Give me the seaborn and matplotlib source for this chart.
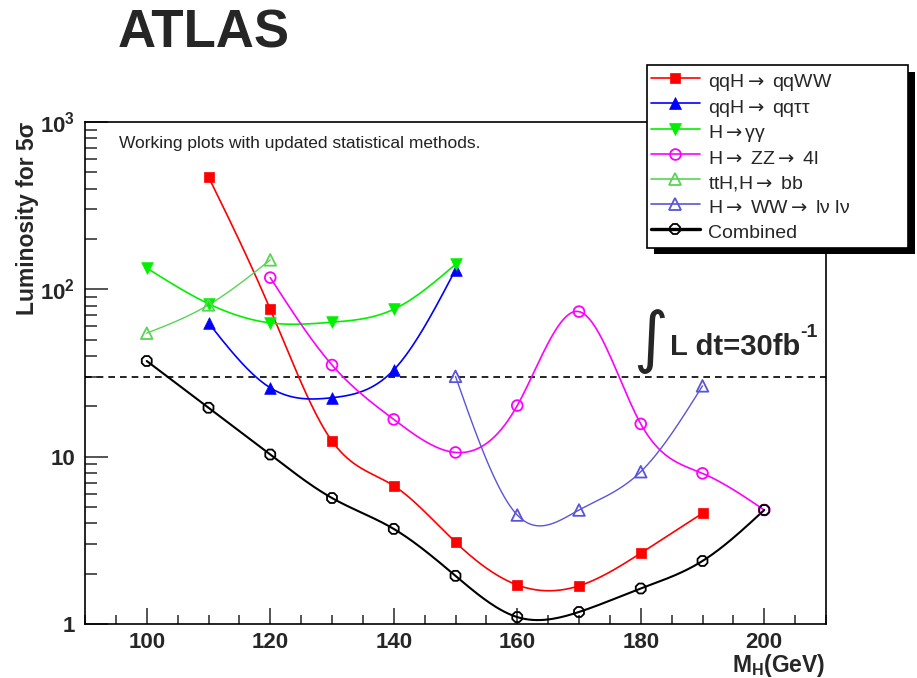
import numpy as np
import pandas as pd
import matplotlib
matplotlib.use("Agg")
import matplotlib.pyplot as plt
import matplotlib.patheffects as pe
from matplotlib.lines import Line2D
from matplotlib.ticker import MultipleLocator, LogLocator, FixedLocator, FixedFormatter, NullFormatter
import seaborn as sns

# ---- data: luminosity (fb^-1) needed for a 5 sigma discovery vs Higgs mass ----
mass_qqww = [110, 120, 130, 140, 150, 160, 170, 180, 190]
lumi_qqww = [470, 76, 12.4, 6.7, 3.08, 1.71, 1.69, 2.65, 4.59]

mass_qqtautau = [110, 120, 130, 140, 150]
lumi_qqtautau = [63, 25.8, 22.5, 33, 131]

mass_gamgam = [100, 110, 120, 130, 140, 150]
lumi_gamgam = [134, 82, 63, 63.6, 76, 141]

mass_zz4l = [120, 130, 140, 150, 160, 170, 180, 190, 200]
lumi_zz4l = [117.5, 35.3, 16.7, 10.6, 20.2, 73.6, 15.7, 7.95, 4.8]

mass_tthbb = [100, 110, 120]
lumi_tthbb = [54.7, 80.7, 150]

mass_wwlvlv = [150, 160, 170, 180, 190]
lumi_wwlvlv = [30.2, 4.48, 4.8, 8.13, 26.5]

mass_comb = [100, 110, 120, 130, 140, 150, 160, 170, 180, 190, 200]
lumi_comb = [37.3, 19.6, 10.3, 5.66, 3.7, 1.94, 1.1, 1.18, 1.63, 2.38, 4.8]

lumi_reference = 30  # integrated luminosity line, fb^-1

x_ticks = [100, 120, 140, 160, 180, 200]
y_ticks = [1, 10, 100, 1000]
y_ticklabels = ["1", "10", r"$\mathbf{10^{2}}$", r"$\mathbf{10^{3}}$"]

ARROW = r"$\mathsf{\rightarrow}$"
labels = [
    "qqH" + ARROW + " qqWW",
    "qqH" + ARROW + " qq\u03c4\u03c4",
    "H" + ARROW + "\u03b3\u03b3",
    "H" + ARROW + " ZZ" + ARROW + " 4l",
    "ttH,H" + ARROW + " bb",
    "H" + ARROW + " WW" + ARROW + " l\u03bd l\u03bd",
    "Combined",
]

# ---- styling ----
sns.set_style("ticks")
plt.rcParams["font.family"] = ["Liberation Sans", "DejaVu Sans"]
plt.rcParams["mathtext.fontset"] = "custom"
plt.rcParams["mathtext.rm"] = "Liberation Sans"
plt.rcParams["mathtext.bf"] = "Liberation Sans:bold"
plt.rcParams["mathtext.it"] = "Liberation Sans:italic"
plt.rcParams["mathtext.sf"] = "DejaVu Sans"


def smooth_curve(x, y, n=300):
    """Natural cubic spline through the points, built in (x, log10 y) space."""
    x = np.asarray(x, float)
    ly = np.log10(np.asarray(y, float))
    k = len(x)
    if k < 3:
        xs = np.linspace(x[0], x[-1], n)
        return xs, 10 ** np.interp(xs, x, ly)
    h = np.diff(x)
    A = np.zeros((k, k))
    b = np.zeros(k)
    A[0, 0] = A[-1, -1] = 1.0
    for i in range(1, k - 1):
        A[i, i - 1] = h[i - 1]
        A[i, i] = 2 * (h[i - 1] + h[i])
        A[i, i + 1] = h[i]
        b[i] = 6 * ((ly[i + 1] - ly[i]) / h[i] - (ly[i] - ly[i - 1]) / h[i - 1])
    M = np.linalg.solve(A, b)
    xs = np.linspace(x[0], x[-1], n)
    idx = np.clip(np.searchsorted(x, xs) - 1, 0, k - 2)
    x0, x1 = x[idx], x[idx + 1]
    hh = x1 - x0
    t0, t1 = x1 - xs, xs - x0
    ys = (M[idx] * t0 ** 3 / (6 * hh) + M[idx + 1] * t1 ** 3 / (6 * hh)
          + (ly[idx] - M[idx] * hh ** 2 / 6) * t0 / hh
          + (ly[idx + 1] - M[idx + 1] * hh ** 2 / 6) * t1 / hh)
    return xs, 10 ** ys


series = [
    # masses, values, colour, marker, filled, marker size (pt^2), line width
    (mass_qqww, lumi_qqww, "#ff0000", "s", True, 62, 1.2),
    (mass_qqtautau, lumi_qqtautau, "#0000ff", "^", True, 70, 1.2),
    (mass_gamgam, lumi_gamgam, "#00f000", "v", True, 70, 1.2),
    (mass_zz4l, lumi_zz4l, "#ff00ff", "o", False, 60, 1.2),
    (mass_tthbb, lumi_tthbb, "#59d454", "^", False, 70, 1.0),
    (mass_wwlvlv, lumi_wwlvlv, "#5954d9", "^", False, 70, 1.0),
    (mass_comb, lumi_comb, "#000000", "8", False, 60, 1.5),
]

fig = plt.figure(figsize=(9.17, 6.78), dpi=100)
W, H = 917, 678
ax = fig.add_axes([85 / W, 1 - 624 / H, (826 - 85) / W, (624 - 122) / H])

for m, v, col, mk, filled, s, lw in series:
    xs, ys = smooth_curve(m, v)
    curve = pd.DataFrame({"mass": xs, "lumi": ys})
    sns.lineplot(data=curve, x="mass", y="lumi", color=col, linewidth=lw,
                 estimator=None, sort=False, ax=ax, zorder=3)
    pts = pd.DataFrame({"mass": m, "lumi": v})
    if filled:
        sns.scatterplot(data=pts, x="mass", y="lumi", marker=mk, s=s, color=col,
                        edgecolor=col, linewidth=0.5, ax=ax, zorder=4)
    else:
        sns.scatterplot(data=pts, x="mass", y="lumi", marker=mk, s=s, color=col,
                        facecolor="none", edgecolor=col, linewidth=1.3, ax=ax, zorder=4)

ax.axhline(lumi_reference, color="black", linestyle=(0, (4, 3)), linewidth=1.2, zorder=2)

ax.set_yscale("log")
ax.set_xlim(90, 210)
ax.set_ylim(1, 1000)

ax.xaxis.set_major_locator(FixedLocator(x_ticks))
ax.xaxis.set_minor_locator(MultipleLocator(5))
ax.yaxis.set_major_locator(FixedLocator(y_ticks))
ax.yaxis.set_major_formatter(FixedFormatter(y_ticklabels))
ax.yaxis.set_minor_locator(LogLocator(base=10, subs=np.arange(2, 10)))
ax.yaxis.set_minor_formatter(NullFormatter())

for sp in ax.spines.values():
    sp.set_linewidth(1.2)
    sp.set_color("black")

ax.tick_params(axis="x", which="major", direction="in", length=11.5, width=1.1,
               labelsize=16, pad=5.5, top=False)
ax.tick_params(axis="x", which="minor", direction="in", length=6.5, width=1.1, top=False)
ax.tick_params(axis="y", which="major", direction="in", length=16.5, width=1.1,
               labelsize=16, pad=7, right=False)
ax.tick_params(axis="y", which="minor", direction="in", length=8.6, width=1.1, right=False)
for lab in ax.get_xticklabels() + ax.get_yticklabels():
    lab.set_fontweight("bold")

ax.set_xlabel("")
ax.set_ylabel("")
fig.text(825 / W, 1 - 652 / H, r"M$_{\mathbf{H}}$(GeV)", ha="right", va="top",
         fontsize=16.5, fontweight="bold")
fig.text(28 / W, 1 - 218 / H, "Luminosity for 5\u03c3", rotation=90, ha="center",
         va="center", fontsize=16.5, fontweight="bold")

fig.text(118 / W, 1 - 48 / H, "ATLAS", ha="left", va="baseline", fontsize=38,
         fontweight="bold")

fig.text(119 / W, 1 - 148 / H, "Working plots with updated statistical methods.",
         ha="left", va="baseline", fontsize=12.5, color="#222222")

fig.text(651 / W, 1 - 341 / H, "\u222b", ha="center", va="center", fontsize=48,
         family=["DejaVu Sans"], fontweight="normal")
fig.text(670 / W, 1 - 355 / H, "L dt=30fb", ha="left", va="baseline",
         fontsize=21, fontweight="bold")
fig.text(800 / W, 1 - 337 / H, "-1", ha="left", va="baseline",
         fontsize=14, fontweight="bold")

handles = []
for (m, v, col, mk, filled, s, lw), lab in zip(series, labels):
    handles.append(Line2D([], [], color=col, linewidth=(2.4 if lab == "Combined" else 1.2),
                          marker=mk, markersize=np.sqrt(s),
                          markerfacecolor=(col if filled else "none"),
                          markeredgecolor=col, markeredgewidth=(0.5 if filled else 1.3)))
# tall handle boxes give every legend row the same height
leg = fig.legend(handles, labels, loc="upper left",
                 bbox_to_anchor=(647 / W, 1 - 65 / H, (908 - 647) / W, 0.0),
                 mode="expand", fontsize=14, frameon=True, fancybox=False,
                 edgecolor="black", handlelength=2.5, handleheight=1.5,
                 handletextpad=0.45, labelspacing=0.06, borderpad=0.2,
                 borderaxespad=0.0)
frame = leg.get_frame()
frame.set_linewidth(1.2)
frame.set_alpha(1)
frame.set_path_effects([pe.SimplePatchShadow(offset=(5, -5), shadow_rgbFace="black", alpha=1.0),
                        pe.Normal()])

fig.savefig("out.png", dpi=100, facecolor="white")
